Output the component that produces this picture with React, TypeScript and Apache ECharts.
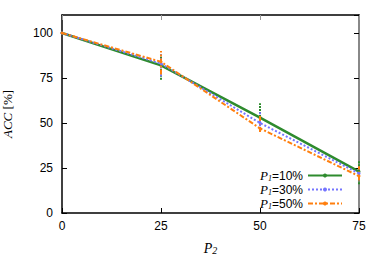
import React, { useEffect, useRef } from "react";
import * as echarts from "echarts";

const xValues = [0, 25, 50, 75];
const seriesNames = ["P1=10%", "P1=30%", "P1=50%"];
const acc10 = [100, 82, 53, 23];
const acc30 = [100, 83, 50, 22];
const acc50 = [100, 84, 47, 20.5];
const err10Low = [100, 74, 45, 16];
const err10High = [100, 88, 61, 29];
const err30Low = [100, 76, 46, 18];
const err30High = [100, 89, 56, 27];
const err50Low = [100, 77, 45, 18];
const err50High = [100, 90, 54, 26];
const xTicks = [0, 25, 50, 75];
const yTicks = [0, 25, 50, 75, 100];

const colors = ["#2e8b2e", "#7474ff", "#ff7f0e"];
const lineTypes: any[] = ["solid", [2, 2], [5, 2, 2, 2]];
const widths = [2.5, 2, 2];

export default function App() {
  const ref = useRef<HTMLDivElement>(null);
  useEffect(() => {
    document.body.style.margin = "0";
    const chart = echarts.init(ref.current!, undefined, { renderer: "svg" });
    const accs = [acc10, acc30, acc50];
    const lows = [err10Low, err30Low, err50Low];
    const highs = [err10High, err30High, err50High];
    const lineSeries = accs.map((a, i) => ({
      name: seriesNames[i],
      type: "line",
      data: xValues.map((x, j) => [x, a[j]]),
      symbol: "circle",
      symbolSize: 3,
      showSymbol: true,
      lineStyle: { color: colors[i], width: widths[i], type: lineTypes[i] },
      itemStyle: { color: colors[i] },
      z: 3 + i,
    }));
    const errSeries = accs.map((a, i) => ({
      name: seriesNames[i] + "err",
      type: "custom",
      data: xValues.map((x, j) => [x, lows[i][j], highs[i][j]]),
      renderItem: (params: any, api: any) => {
        const p1 = api.coord([api.value(0), api.value(1)]);
        const p2 = api.coord([api.value(0), api.value(2)]);
        return {
          type: "line",
          shape: { x1: p1[0], y1: p1[1], x2: p2[0], y2: p2[1] },
          style: { stroke: colors[i], lineWidth: 2, lineDash: i === 0 ? [2, 1] : lineTypes[i] },
        };
      },
      z: 2 + i,
      silent: true,
    }));
    const richLegend = {
      i: { fontFamily: "Liberation Serif", fontStyle: "italic", fontSize: 13, lineHeight: 13, color: "#000" },
      s: { fontFamily: "Liberation Serif", fontStyle: "italic", fontSize: 8, lineHeight: 8, verticalAlign: "bottom", color: "#000" },
      n: { fontFamily: "Liberation Sans", fontSize: 12, lineHeight: 13, color: "#000" },
    };
    chart.setOption({
      animation: false,
      grid: { left: 62, right: 23, top: 15, bottom: 54, outerBoundsMode: "none", containLabel: false },
      legend: {
        orient: "vertical",
        right: 39,
        top: 169,
        padding: 0,
        align: "right",
        itemWidth: 34,
        itemHeight: 5,
        itemGap: 1,
        data: seriesNames,
        formatter: (name: string) => {
          const rest = name.slice(2);
          return "{i|P}{s|1}{n|" + rest + "}";
        },
        textStyle: { lineHeight: 13, rich: richLegend },
      },
      xAxis: [
        {
          type: "value",
          min: 0,
          max: 75,
          interval: 25,
          name: "{i|P}{s|2}",
          nameLocation: "middle",
          nameGap: 28,
          nameTextStyle: {
            rich: {
              i: { fontFamily: "Liberation Serif", fontStyle: "italic", fontSize: 14, lineHeight: 14, color: "#000" },
              s: { fontFamily: "Liberation Serif", fontStyle: "italic", fontSize: 10, lineHeight: 6, verticalAlign: "bottom", color: "#000" },
            },
          },
          axisLine: { onZero: false, lineStyle: { color: "#000", width: 1.5 } },
          axisTick: { inside: true, length: 5, lineStyle: { color: "#000" } },
          axisLabel: { fontFamily: "Liberation Sans", fontSize: 12, color: "#000", margin: 7, formatter: (v: number) => (xTicks.includes(v) ? String(v) : "") },
          splitLine: { show: false },
        },
        {
          type: "value",
          min: 0,
          max: 75,
          interval: 25,
          position: "top",
          axisLine: { show: true, onZero: false, lineStyle: { color: "#000", width: 1.5 } },
          axisTick: { inside: true, length: 5, lineStyle: { color: "#999" } },
          axisLabel: { show: false },
          splitLine: { show: false },
        },
      ],
      yAxis: [
        {
          type: "value",
          min: 0,
          max: 110,
          interval: 25,
          name: "{i|ACC} {n|[%]}",
          nameLocation: "middle",
          nameGap: 48,
          nameTextStyle: {
            rich: {
              i: { fontFamily: "Liberation Serif", fontStyle: "italic", fontSize: 13, color: "#000" },
              n: { fontFamily: "Liberation Serif", fontSize: 13, color: "#000" },
            },
          },
          axisLine: { show: true, onZero: false, lineStyle: { color: "#000", width: 1.5 } },
          axisTick: { show: true, inside: true, length: 5, lineStyle: { color: "#000" } },
          axisLabel: { fontFamily: "Liberation Sans", fontSize: 12, color: "#000", margin: 9, showMaxLabel: false, formatter: (v: number) => (yTicks.includes(v) ? String(v) : "") },
          splitLine: { show: false },
        },
        {
          type: "value",
          min: 0,
          max: 110,
          interval: 25,
          position: "right",
          axisLine: { show: true, onZero: false, lineStyle: { color: "#888", width: 2 } },
          axisTick: { show: true, inside: true, length: 5, lineStyle: { color: "#000" } },
          axisLabel: { show: false },
          splitLine: { show: false },
        },
      ],
      series: [...errSeries, ...lineSeries],
    });
    return () => chart.dispose();
  }, []);
  return <div ref={ref} style={{ width: 382, height: 267 }} />;
}
